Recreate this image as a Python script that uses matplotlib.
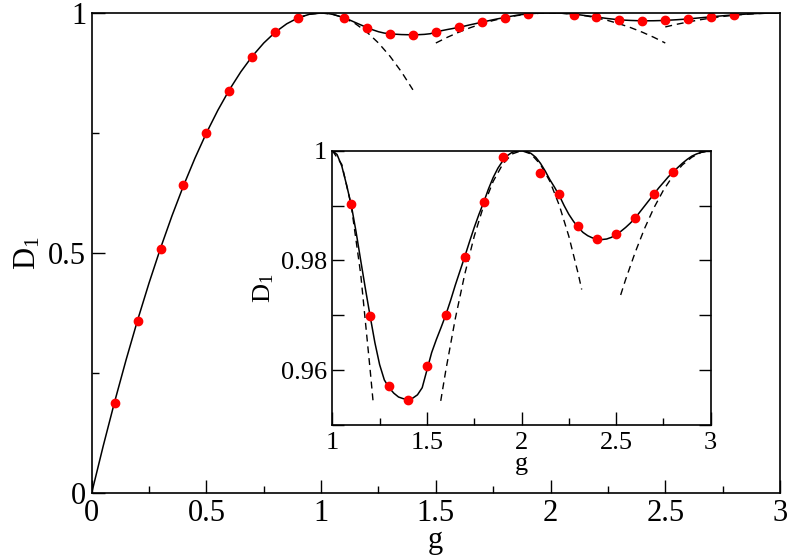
import matplotlib
matplotlib.use("Agg")
import matplotlib.pyplot as plt
from matplotlib.ticker import MultipleLocator, FixedLocator, FixedFormatter

plt.rcParams['font.family'] = ['Liberation Serif', 'DejaVu Serif']
plt.rcParams['mathtext.fontset'] = 'custom'
plt.rcParams['mathtext.rm'] = 'Liberation Serif'
plt.rcParams['mathtext.it'] = 'Liberation Serif:italic'

# ---------------- data ----------------
# solid curve
g_solid = [0.0, 0.05, 0.1, 0.15, 0.2, 0.25, 0.3, 0.35, 0.4, 0.45, 0.5, 0.55, 0.6,
           0.65, 0.7, 0.75, 0.8, 0.85, 0.9, 0.95, 1.0,
           1.025, 1.05, 1.075, 1.1, 1.125, 1.15, 1.175, 1.2, 1.225, 1.25, 1.275,
           1.3, 1.325, 1.35, 1.375, 1.4, 1.425, 1.45, 1.475, 1.5, 1.525, 1.55,
           1.575, 1.6, 1.625, 1.65, 1.675, 1.7, 1.725, 1.75, 1.775, 1.8, 1.825,
           1.85, 1.875, 1.9, 1.925, 1.95, 1.975, 2.0,
           2.025, 2.05, 2.075, 2.1, 2.125, 2.15, 2.175, 2.2, 2.225, 2.25, 2.275,
           2.3, 2.325, 2.35, 2.375, 2.4, 2.425, 2.45, 2.475, 2.5, 2.525, 2.55,
           2.575, 2.6, 2.625, 2.65, 2.675, 2.7, 2.725, 2.75, 2.775, 2.8, 2.825,
           2.85, 2.875, 2.9, 2.925, 2.95, 2.975, 3.0]
D_solid = [0.0, 0.0975, 0.19, 0.2775, 0.36, 0.4375, 0.51, 0.5775, 0.64, 0.6975, 0.75,
           0.7975, 0.84, 0.8775, 0.91, 0.9375, 0.96, 0.9775, 0.99, 0.9975, 1.0,
           0.9993, 0.9972, 0.9938, 0.9901, 0.9853, 0.9800, 0.9748, 0.9698, 0.9650,
           0.9610, 0.9582, 0.9568, 0.9558, 0.9551, 0.9548, 0.9547, 0.9549, 0.9555,
           0.9568, 0.9600, 0.9632, 0.9656, 0.9678, 0.9701, 0.9727, 0.9755, 0.9781,
           0.9807, 0.9834, 0.9860, 0.9884, 0.9906, 0.9930, 0.9951, 0.9968, 0.9981,
           0.9991, 0.9997, 0.9999, 1.0,
           0.9999, 0.9995, 0.9988, 0.9977, 0.9963, 0.9947, 0.9933, 0.9918, 0.9900,
           0.9884, 0.9871, 0.9860, 0.9851, 0.9845, 0.9841, 0.9839, 0.9838, 0.9839,
           0.9842, 0.9847, 0.9853, 0.9860, 0.9868, 0.9877, 0.9888, 0.9899, 0.9910,
           0.9921, 0.9932, 0.9942, 0.9952, 0.9961, 0.9969, 0.9977, 0.9984, 0.9990,
           0.9994, 0.9997, 0.9999, 1.0]

# red points
g_pts = [0.1, 0.2, 0.3, 0.4, 0.5, 0.6, 0.7, 0.8, 0.9,
         1.1, 1.2, 1.3, 1.4, 1.5, 1.6, 1.7, 1.8, 1.9,
         2.1, 2.2, 2.3, 2.4, 2.5, 2.6, 2.7, 2.8]
D_pts = [0.187, 0.359, 0.508, 0.642, 0.751, 0.838, 0.909, 0.960, 0.990,
         0.9903, 0.9698, 0.9571, 0.9546, 0.9607, 0.9701, 0.9807, 0.9906, 0.9989,
         0.9960, 0.9921, 0.9863, 0.9839, 0.9848, 0.9877, 0.9921, 0.9961]

# dashed approximations, main panel
g_dashA = [0.9, 0.95, 1.0, 1.05, 1.1, 1.15, 1.2, 1.25, 1.3, 1.35, 1.4]
D_dashA = [0.99, 0.9975, 1.0, 0.9975, 0.99, 0.9775, 0.96, 0.9375, 0.91, 0.8775, 0.84]
g_dashB = [1.5, 1.55, 1.6, 1.65, 1.7, 1.75, 1.8, 1.85, 1.9, 1.95, 2.0, 2.05, 2.1,
           2.15, 2.2, 2.25, 2.3, 2.35, 2.4, 2.45, 2.5]
D_dashB = [0.9375, 0.9494, 0.96, 0.9694, 0.9775, 0.9844, 0.99, 0.9944, 0.9975,
           0.9994, 1.0, 0.9994, 0.9975, 0.9944, 0.99, 0.9844, 0.9775, 0.9694, 0.96,
           0.9494, 0.9375]
g_dashC = [2.5, 2.55, 2.6, 2.65, 2.7, 2.75, 2.8, 2.85, 2.9, 2.95, 3.0]
D_dashC = [0.971, 0.9765, 0.9814, 0.9858, 0.9896, 0.9928, 0.9954, 0.9974, 0.9988,
           0.9997, 1.0]

# dashed approximations, inset
gi_dashA = [1.0, 1.05, 1.1, 1.15, 1.2, 1.217]
Di_dashA = [1.0, 0.9975, 0.99, 0.9775, 0.96, 0.9537]
gi_dashB = [1.573, 1.6, 1.65, 1.7, 1.75, 1.8, 1.85, 1.9, 1.95, 2.0, 2.05, 2.1,
            2.15, 2.2, 2.25, 2.3, 2.318]
Di_dashB = [0.9544, 0.96, 0.9694, 0.9775, 0.9844, 0.99, 0.9944, 0.9975, 0.9994,
            1.0, 0.9994, 0.9975, 0.9944, 0.99, 0.9844, 0.9775, 0.9747]
gi_dashC = [2.524, 2.55, 2.6, 2.65, 2.7, 2.75, 2.8, 2.85, 2.9, 2.95, 3.0]
Di_dashC = [0.9737, 0.9765, 0.9814, 0.9858, 0.9896, 0.9928, 0.9954, 0.9974, 0.9988,
            0.9997, 1.0]

main_xticks = [0, 0.5, 1, 1.5, 2, 2.5, 3]
main_xlabels = ['0', '0.5', '1', '1.5', '2', '2.5', '3']
main_yticks = [0, 0.5, 1]
main_ylabels = ['0', '0.5', '1']
inset_xticks = [1, 1.5, 2, 2.5, 3]
inset_xlabels = ['1', '1.5', '2', '2.5', '3']
inset_yticks = [0.95, 0.96, 0.97, 0.98, 0.99, 1.0]
inset_ylabels = ['', '0.96', '', '0.98', '', '1']

# ---------------- figure ----------------
fig = plt.figure(figsize=(7.89, 5.56), dpi=100)
ax = fig.add_axes([0.1162, 0.1133, 0.8724, 0.8633])
ins = fig.add_axes([0.4212, 0.2356, 0.4796, 0.4934])

dash = (0, (5, 3.5))
red = '#ff0000'

def style(a, xt, xl, yt, yl, fs, right_ticks):
    for s in a.spines.values():
        s.set_linewidth(1.2)
        s.set_color('black')
    a.xaxis.set_major_locator(FixedLocator(xt))
    a.xaxis.set_major_formatter(FixedFormatter(xl))
    a.yaxis.set_major_locator(FixedLocator(yt))
    a.yaxis.set_major_formatter(FixedFormatter(yl))
    a.tick_params(which='both', direction='in', top=False, right=right_ticks,
                  labelsize=fs, width=1.0, color='black')
    a.tick_params(which='major', length=9.5)
    a.tick_params(which='minor', length=5)

# main
ax.plot(g_dashA, D_dashA, color='black', lw=1.0, linestyle=dash)
ax.plot(g_dashB, D_dashB, color='black', lw=1.0, linestyle=dash)
ax.plot(g_dashC, D_dashC, color='black', lw=1.0, linestyle=dash)
ax.plot(g_solid, D_solid, color='black', lw=1.1)
ax.plot(g_pts, D_pts, 'o', color=red, ms=6, mec=red)
ax.set_xlim(0, 3)
ax.set_ylim(0, 1)
style(ax, main_xticks, main_xlabels, main_yticks, main_ylabels, 22, False)
ax.xaxis.set_minor_locator(MultipleLocator(0.25))
ax.yaxis.set_minor_locator(MultipleLocator(0.25))
ax.tick_params(axis='x', which='major', pad=4)
ax.tick_params(axis='y', which='major', pad=4)
ax.set_xlabel('g', fontsize=22, labelpad=-1)
ax.set_ylabel(r'$\mathrm{D}_1$', fontsize=22, labelpad=4)

# inset
ins.plot(gi_dashA, Di_dashA, color='black', lw=1.0, linestyle=dash)
ins.plot(gi_dashB, Di_dashB, color='black', lw=1.0, linestyle=dash)
ins.plot(gi_dashC, Di_dashC, color='black', lw=1.0, linestyle=dash)
ins.plot(g_solid, D_solid, color='black', lw=1.1)
ins.plot(g_pts, D_pts, 'o', color=red, ms=6, mec=red)
ins.set_xlim(1, 3)
ins.set_ylim(0.95, 1.0)
style(ins, inset_xticks, inset_xlabels, inset_yticks, inset_ylabels, 19, True)
ins.xaxis.set_minor_locator(MultipleLocator(0.25))
ins.tick_params(axis='y', which='major', length=8.5)
ins.tick_params(axis='x', which='major', pad=5)
ins.tick_params(axis='y', which='major', pad=4)
ins.set_xlabel('g', fontsize=19, labelpad=-1)
ins.set_ylabel(r'$\mathrm{D}_1$', fontsize=19, labelpad=3)

fig.savefig('out.png', dpi=100)
